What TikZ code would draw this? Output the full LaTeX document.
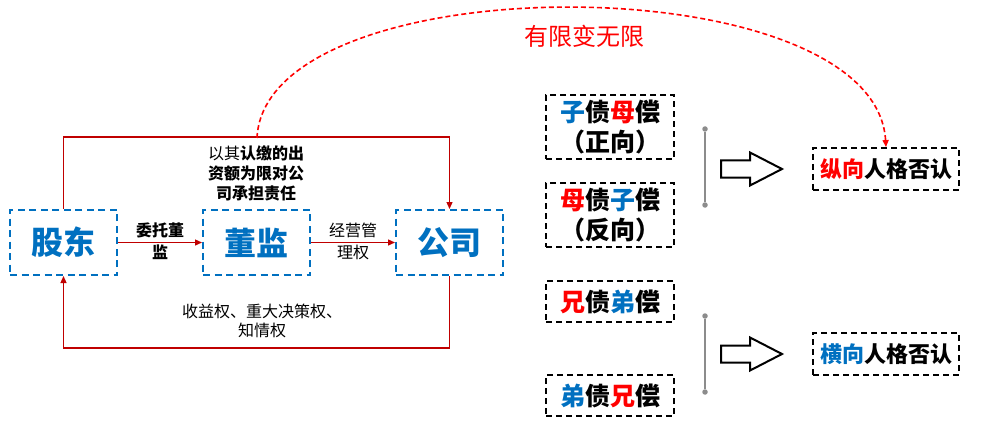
\documentclass[tikz,border=0pt]{standalone}
\usepackage{fontspec}
\setmainfont{Noto Sans CJK SC}
\usetikzlibrary{arrows.meta}
\definecolor{myblue}{HTML}{0070C0}
\definecolor{dred}{HTML}{C00000}
\definecolor{bred}{HTML}{FF0000}
\definecolor{lgray}{HTML}{8C8C8C}
\begin{document}
\begin{tikzpicture}[x=1pt,y=-1pt,
  bluebox/.style={draw=myblue, line width=2pt, dash pattern=on 7pt off 4.5pt,
    minimum width=107pt, minimum height=65pt, inner sep=0pt, text=myblue,
    font=\fontsize{32}{36}\selectfont\bfseries},
  blkbox/.style={draw=black, line width=1.8pt, dash pattern=on 6pt off 4pt,
    inner sep=0pt, align=center, minimum width=128pt},
  bigtxt/.style={font=\fontsize{25}{30}\selectfont\bfseries},
  midtxt/.style={font=\fontsize{22}{26}\selectfont\bfseries},
  redline/.style={draw=dred, line width=1.3pt},
  redarr/.style={redline, -{Triangle[length=7pt,width=6pt]}},
  lbl/.style={align=center, inner sep=0pt},
  grayline/.style={draw=lgray, line width=1.5pt},
  dot/.style={circle, fill=lgray, inner sep=0pt, minimum size=5.5pt},
  blockarrow/.style={draw=black, line width=2pt, fill=white, line join=miter}
]
\useasboundingbox (0,0) rectangle (981,422);

% left part
\node[bluebox] (gd) at (63.5,242.5) {股东};
\node[bluebox] (dj) at (256.5,242.5) {董监};
\node[bluebox] (gs) at (449.5,242.5) {公司};

\draw[redarr] (gd.north) -- ++(0,-72) -| (gs.north);
\draw[redarr] (gs.south) -- ++(0,72) -| (gd.south);
\draw[redarr] (gd.east) -- (dj.west);
\draw[redarr] (dj.east) -- (gs.west);

\node[lbl, font=\fontsize{16}{20}\selectfont] (t1) at (256,173)
  {以其\textbf{认缴的出}\\\textbf{资额为限对公}\\\textbf{司承担责任}};
\node[lbl, font=\fontsize{16}{22}\selectfont\bfseries] (t2) at (160,241) {委托董\\监};
\node[lbl, font=\fontsize{16}{22}\selectfont] (t3) at (353,241) {经营管\\理权};
\node[lbl, font=\fontsize{16}{19}\selectfont] (t4) at (262,321) {收益权、重大决策权、\\知情权};

% right part
\node[blkbox, bigtxt, minimum height=64pt] (b1) at (610,127)
  {\textcolor{myblue}{子}债\textcolor{bred}{母}偿\\（正向）};
\node[blkbox, bigtxt, minimum height=64pt] (b2) at (610,215)
  {\textcolor{bred}{母}债\textcolor{myblue}{子}偿\\（反向）};
\node[blkbox, bigtxt, minimum height=41pt] (b3) at (610,301.5)
  {\textcolor{bred}{兄}债\textcolor{myblue}{弟}偿};
\node[blkbox, bigtxt, minimum height=41pt] (b4) at (610,395.5)
  {\textcolor{myblue}{弟}债\textcolor{bred}{兄}偿};

\node[blkbox, midtxt, minimum width=146pt, minimum height=42pt] (z1) at (886,169)
  {\textcolor{bred}{纵向}人格否认};
\node[blkbox, midtxt, minimum width=146pt, minimum height=42pt] (z2) at (886,354)
  {\textcolor{myblue}{横向}人格否认};

% gray brackets
\node[dot] (d1) at (705,129) {};
\node[dot] (d2) at (705,205) {};
\node[dot] (d3) at (705,316) {};
\node[dot] (d4) at (705,392) {};
\draw[grayline] (d1) -- (d2);
\draw[grayline] (d3) -- (d4);

% block arrows
\foreach \cy in {169,354}{
  \draw[blockarrow] (721,\cy-8.5) -- (750,\cy-8.5) -- (750,\cy-16.5) -- (782,\cy)
    -- (750,\cy+16.5) -- (750,\cy+8.5) -- (721,\cy+8.5) -- cycle;
}

% dashed curve
\coordinate (cs) at (257,138);
\draw[draw=bred, line width=1.6pt, dash pattern=on 5pt off 3pt,
  -{Triangle[length=7pt,width=6pt]}]
  (cs) .. controls (265,-37) and (875,-37) .. (z1.north);
\node[text=bred, font=\fontsize{24}{28}\selectfont] (lab) at (584,36) {有限变无限};
\end{tikzpicture}
\end{document}
